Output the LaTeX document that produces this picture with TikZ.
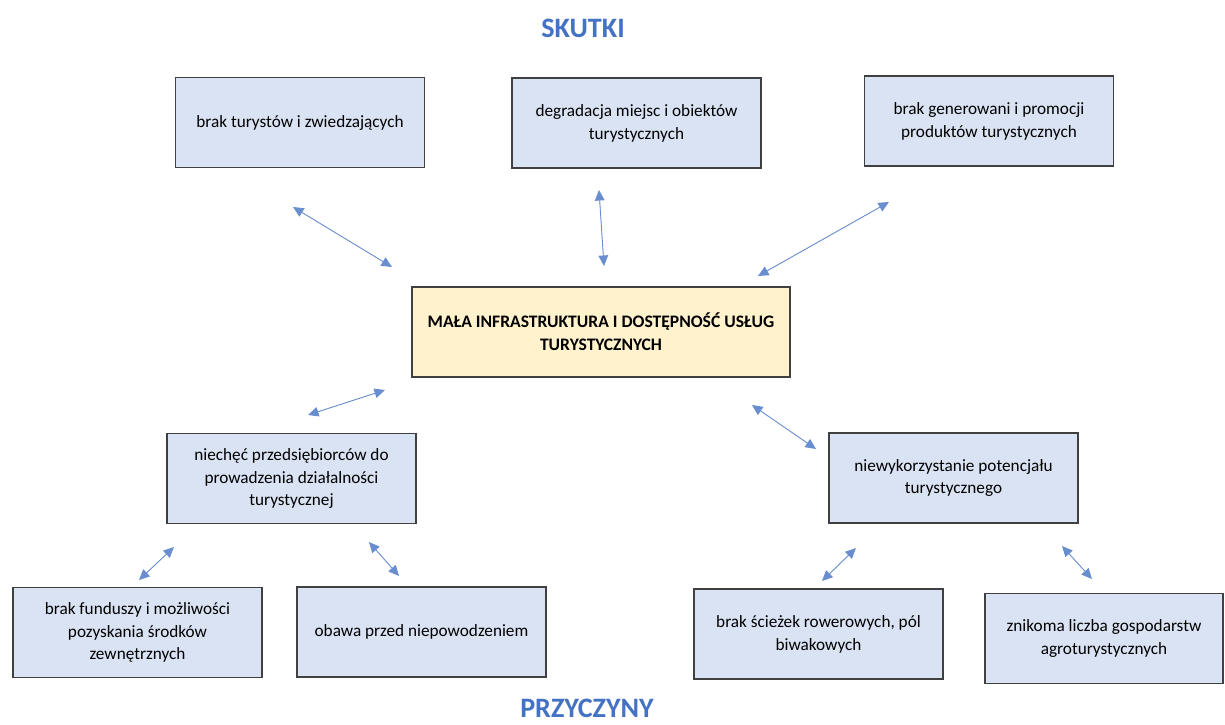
\documentclass[tikz,border=0pt]{standalone}
\usepackage{fontspec}
\setmainfont{Carlito}
\usepackage{tikz}
\usetikzlibrary{arrows.meta,positioning}
\usepackage{xcolor}
\definecolor{boxblue}{HTML}{DAE3F3}
\definecolor{boxyellow}{HTML}{FFF2CC}
\definecolor{arrowblue}{HTML}{4472C4}

\begin{document}
\begin{tikzpicture}[
	  every node/.style={align=center,font=\fontsize{9.8}{13}\selectfont},
	  title/.style={text=arrowblue,font=\fontsize{16}{18}\selectfont\bfseries},
	  effect/.style={draw=black!75,line width=0.8pt,fill=boxblue,minimum width=4.98cm,minimum height=1.8cm,inner sep=0pt},
	  cause/.style={effect},
	  problem/.style={draw=black!75,line width=0.8pt,fill=boxyellow,minimum width=7.56cm,minimum height=1.8cm,inner sep=0pt,font=\fontsize{10}{13}\selectfont\bfseries},
	  twoway/.style={{Triangle[length=6pt,width=5.5pt]}-{Triangle[length=6pt,width=5.5pt]},draw=arrowblue!80,fill=arrowblue,line width=0.5pt}]

	  \useasboundingbox (0,0) rectangle (24.5,-14.48);

	  % Effects, problem and causes
	  \node[title] (skutki) at (11.66,-0.56) {SKUTKI};
	  \node[effect] (tourists) at (6.00,-2.45) {brak turystów i zwiedzających};
	  \node[effect] (degradation) at (12.73,-2.46) {degradacja miejsc i obiektów\\turystycznych};
	  \node[effect] (promotion) at (19.78,-2.42) {brak generowani i promocji\\produktów turystycznych};
	  \node[problem] (problem) at (12.02,-6.64) {MAŁA INFRASTRUKTURA I DOSTĘPNOŚĆ USŁUG\\TURYSTYCZNYCH};
	  \node[cause] (reluctance) at (5.83,-9.57) {niechęć przedsiębiorców do\\prowadzenia działalności\\turystycznej};
	  \node[cause] (potential) at (19.07,-9.56) {niewykorzystanie potencjału\\turystycznego};
	  \node[cause] (funds) at (2.75,-12.65) {brak funduszy i możliwości\\pozyskania środków\\zewnętrznych};
	  \node[cause] (fear) at (8.43,-12.64) {obawa przed niepowodzeniem};
	  \node[cause] (paths) at (16.37,-12.68) {brak ścieżek rowerowych, pól\\biwakowych};
	  \node[cause,minimum width=4.76cm] (farms) at (22.08,-12.77) {znikoma liczba gospodarstw\\agroturystycznych};
	  \node[title] (przyczyny) at (11.74,-14.16) {PRZYCZYNY};

	  % Arrow ends
	  \coordinate (t1) at (5.86,-4.14);   \coordinate (p1) at (7.84,-5.34);
	  \coordinate (t2) at (11.98,-3.80);  \coordinate (p2) at (12.08,-5.32);
	  \coordinate (t3) at (17.78,-4.04);  \coordinate (p3) at (15.16,-5.52);
	  \coordinate (p4) at (7.70,-7.80);   \coordinate (r4) at (6.16,-8.30);
	  \coordinate (p5) at (15.04,-8.10);  \coordinate (r5) at (16.32,-8.98);
	  \coordinate (r6) at (3.48,-10.94);  \coordinate (f6) at (2.78,-11.60);
	  \coordinate (r7) at (7.38,-10.84);  \coordinate (f7) at (7.98,-11.52);
	  \coordinate (r8) at (17.12,-10.96); \coordinate (f8) at (16.44,-11.62);
	  \coordinate (r9) at (21.24,-10.92); \coordinate (f9) at (21.84,-11.58);

	  \draw[twoway] (t1) -- (p1);
	  \draw[twoway] (t2) -- (p2);
	  \draw[twoway] (t3) -- (p3);
	  \draw[twoway] (p4) -- (r4);
	  \draw[twoway] (p5) -- (r5);
	  \draw[twoway] (r6) -- (f6);
	  \draw[twoway] (r7) -- (f7);
	  \draw[twoway] (r8) -- (f8);
	  \draw[twoway] (r9) -- (f9);

\end{tikzpicture}
\end{document}
